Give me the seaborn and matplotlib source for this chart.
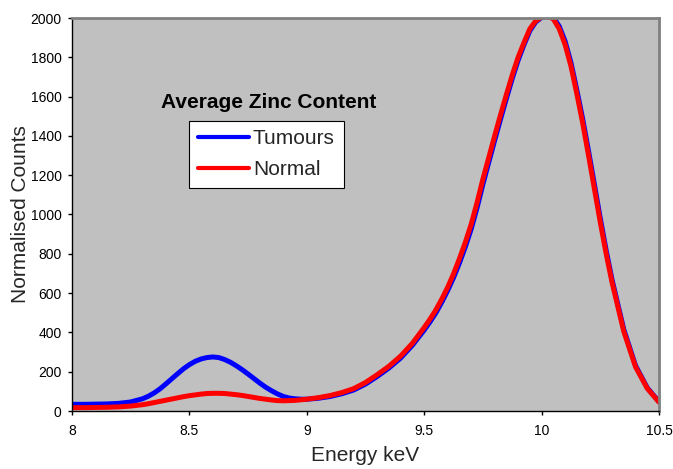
import matplotlib
matplotlib.use("Agg")
import matplotlib.pyplot as plt
import seaborn as sns
import pandas as pd
from matplotlib.lines import Line2D

energy = [8.00, 8.05, 8.10, 8.15, 8.20, 8.25,
          8.300, 8.325, 8.350, 8.375, 8.400, 8.425, 8.450, 8.475, 8.500, 8.525,
          8.550, 8.575, 8.600, 8.625, 8.650, 8.675, 8.700, 8.725, 8.750, 8.775,
          8.800, 8.825, 8.850, 8.875, 8.900, 8.925, 8.950, 8.975, 9.000,
          9.05, 9.10, 9.15, 9.20, 9.25, 9.30, 9.35, 9.40, 9.45,
          9.500, 9.525, 9.550, 9.575, 9.600, 9.625, 9.650, 9.675, 9.700, 9.725,
          9.750, 9.775, 9.800, 9.825, 9.850, 9.875, 9.900, 9.925, 9.950, 9.975,
          10.000, 10.025, 10.050, 10.075, 10.100, 10.125, 10.150, 10.175, 10.200,
          10.225, 10.250, 10.275, 10.300,
          10.35, 10.40, 10.45, 10.50]

tumours = [34, 34, 35, 36, 39, 46,
           62, 75, 92, 113, 138, 164, 190, 215, 236, 253,
           265, 272, 275, 272, 262, 248, 230, 210, 188, 165,
           142, 121, 103, 87, 74, 66, 62, 60, 60,
           65, 74, 88, 107, 137, 176, 219, 270, 335,
           412, 454, 500, 554, 613, 679, 753, 835, 926, 1034,
           1154, 1266, 1377, 1485, 1590, 1692, 1785, 1864, 1935, 1980,
           2003, 2012, 2003, 1958, 1882, 1773, 1634, 1486, 1322,
           1152, 980, 817, 668,
           415, 231, 118, 47]

normal = [17, 17, 18, 19, 21, 25,
          32, 37, 43, 49, 55, 61, 67, 73, 78, 82,
          86, 89, 90, 90, 89, 86, 83, 79, 74, 69,
          64, 60, 56, 53, 52, 53, 54, 57, 60,
          68, 79, 94, 114, 145, 185, 228, 280, 345,
          425, 468, 515, 570, 630, 698, 775, 858, 950, 1060,
          1180, 1290, 1400, 1507, 1610, 1710, 1800, 1875, 1945, 1985,
          2005, 2010, 1995, 1945, 1865, 1755, 1615, 1465, 1300,
          1130, 960, 800, 655,
          405, 225, 115, 45]

series_names = ["Tumours", "Normal"]
series_colors = {"Tumours": "#0000FF", "Normal": "#FF0000"}

df = pd.concat([
    pd.DataFrame({"Energy": energy, "Counts": tumours, "Series": "Tumours"}),
    pd.DataFrame({"Energy": energy, "Counts": normal, "Series": "Normal"}),
], ignore_index=True)

sns.set_style("white")
plt.rcParams["font.family"] = ["Liberation Sans", "DejaVu Sans"]

fig = plt.figure(figsize=(6.73, 4.69), dpi=100)
ax = fig.add_axes([72 / 673, 1 - 411 / 469, 587 / 673, 393 / 469])
ax.set_facecolor("#C0C0C0")

sns.lineplot(data=df, x="Energy", y="Counts", hue="Series", hue_order=series_names,
             palette=series_colors, linewidth=3.6, ax=ax, legend=False, sort=False,
             solid_joinstyle="round", solid_capstyle="round")

ax.set_xlim(8, 10.5)
ax.set_ylim(0, 2000)
ax.set_xticks([8, 8.5, 9, 9.5, 10, 10.5])
ax.set_xticklabels(["8", "8.5", "9", "9.5", "10", "10.5"])
ax.set_yticks(range(0, 2001, 200))

for side in ["left", "bottom"]:
    ax.spines[side].set_color("black")
    ax.spines[side].set_linewidth(1.0)
for side in ["top", "right"]:
    ax.spines[side].set_color("#808080")
    ax.spines[side].set_linewidth(2.0)
    ax.spines[side].set_visible(True)

ax.tick_params(axis="both", direction="out", length=3, width=1, color="black",
               labelsize=10, labelcolor="black")
ax.tick_params(axis="x", pad=6, bottom=True)
ax.tick_params(axis="y", pad=4.5, left=True)

ax.set_xlabel("Energy keV", fontsize=15)
ax.set_ylabel("Normalised Counts", fontsize=15)
ax.xaxis.set_label_coords(0.5, -0.088)
ax.yaxis.set_label_coords(-0.072, 0.5)

handles = [Line2D([0], [0], color=series_colors[n], lw=3.0) for n in series_names]
leg = fig.legend(handles, series_names, loc="upper left",
                 bbox_to_anchor=(189 / 673, 1 - 120.7 / 469),
                 fontsize=15, frameon=True, fancybox=False, framealpha=1,
                 edgecolor="black", handlelength=2.45, handletextpad=0.2,
                 labelspacing=0.55, borderpad=0.42, borderaxespad=0)
leg.get_frame().set_linewidth(0.8)
leg.get_frame().set_facecolor("white")

fig.text(268.5 / 673, 1 - 102.5 / 469, "Average Zinc Content", fontsize=15,
         fontweight="bold", ha="center", va="center", color="black")

fig.savefig("out.png", dpi=100, facecolor="white")
